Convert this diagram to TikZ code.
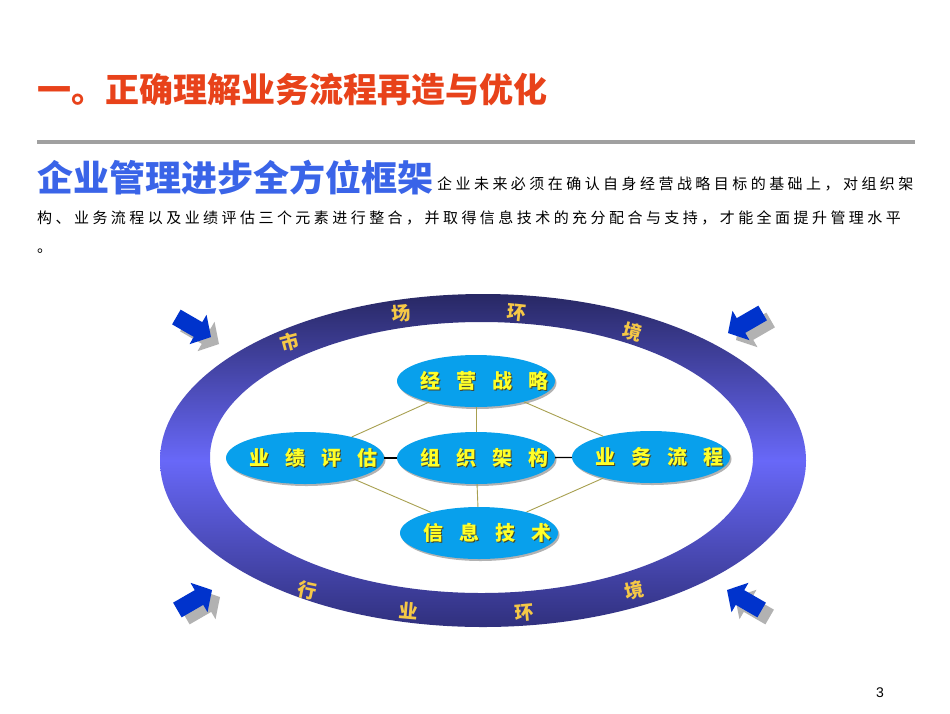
\documentclass[tikz,border=0pt]{standalone}
\usepackage{fontspec}
\setmainfont{Noto Sans CJK SC}
\newfontfamily\cjk{Noto Sans CJK SC}
\newfontfamily\cjkls{Noto Sans CJK SC}[LetterSpace=23]
\newfontfamily\arial{Liberation Sans}
\usetikzlibrary{shapes.geometric,shadows}
\definecolor{titlered}{RGB}{232,66,26}
\definecolor{subblue}{RGB}{58,100,232}
\definecolor{rulegray}{RGB}{160,160,160}
\definecolor{ringtop}{RGB}{40,40,100}
\definecolor{ringmid}{RGB}{104,104,248}
\definecolor{ringbot}{RGB}{48,48,125}
\definecolor{nodecyan}{RGB}{8,160,236}
\definecolor{nodetext}{RGB}{255,255,40}
\definecolor{txtshadow}{RGB}{70,70,40}
\definecolor{ringgold}{RGB}{245,200,70}
\definecolor{olive}{RGB}{168,160,80}
\definecolor{arrowblue}{RGB}{0,51,204}
\definecolor{shadowgray}{RGB}{178,178,178}
\newcommand{\shadowed}[1]{\makebox[0pt][l]{\kern1pt\raisebox{-1pt}{\color{txtshadow}#1}}{#1}}
\newcommand{\gap}{\hspace{16pt}}
\newcommand{\keytext}[1]{\makebox[0pt][c]{\shadowed{#1}}}
\newcommand{\inarrow}[3]{%
  \fill[shadowgray, shift={(#1+8,#2+7)}, rotate=#3] (0,0) -- (-15,17) -- (-15,8.5) -- (-40,8.5) -- (-40,-8.5) -- (-15,-8.5) -- (-15,-17) -- cycle;
  \fill[arrowblue, shift={(#1,#2)}, rotate=#3] (0,0) -- (-15,17) -- (-15,8.5) -- (-40,8.5) -- (-40,-8.5) -- (-15,-8.5) -- (-15,-17) -- cycle;}
\tikzset{
  keynode/.style={ellipse, fill=nodecyan, minimum width=158pt, minimum height=52pt, inner sep=0pt,
    drop shadow={shadow xshift=1.5pt, shadow yshift=-2pt, fill=black, opacity=0.3},
    font=\cjk\bfseries\fontsize{20}{20}\selectfont, text=nodetext},
  ringchar/.style={font=\cjk\bfseries\fontsize{19}{19}\selectfont, text=ringgold, inner sep=0pt},
  oliveline/.style={draw=olive, line width=0.9pt},
  blackline/.style={draw=black, line width=1.4pt}
}
\begin{document}
\begin{tikzpicture}[x=1pt,y=-1pt]
\useasboundingbox (0,0) rectangle (950,713);
\fill[white] (0,0) rectangle (950,713);
% header
\node[anchor=west, inner sep=0pt, text=titlered, font=\cjk\bfseries\fontsize{34}{34}\selectfont] (title) at (37,90) {一。正确理解业务流程再造与优化};
\draw[rulegray, line width=4pt] (37,142) -- (915,142);
\node[anchor=west, inner sep=0pt, text=subblue, font=\cjk\bfseries\fontsize{36}{36}\selectfont] (sub) at (37,178) {企业管理进步全方位框架};
\node[anchor=west, inner sep=0pt, font=\cjkls\fontsize{15}{15}\selectfont] (body1) at (437,184) {企业未来必须在确认自身经营战略目标的基础上，对组织架};
\node[anchor=west, inner sep=0pt, font=\cjkls\fontsize{15}{15}\selectfont] (body2) at (37,218) {构、业务流程以及业绩评估三个元素进行整合，并取得信息技术的充分配合与支持，才能全面提升管理水平};
\node[anchor=west, inner sep=0pt, font=\cjkls\fontsize{15}{15}\selectfont] (body3) at (37,251) {。};
% ring
\shade[even odd rule, top color=ringtop, bottom color=ringbot, middle color=ringmid]
  (483,460.5) ellipse [x radius=323, y radius=166.5]
  (481.5,457.5) ellipse [x radius=271.5, y radius=135.5];
% ring characters
\node[ringchar, rotate=15] (c1) at (290,342) {市};
\node[ringchar, rotate=6] (c2) at (401,313) {场};
\node[ringchar, rotate=-6] (c3) at (517,313) {环};
\node[ringchar, rotate=-15] (c4) at (633,332) {境};
\node[ringchar, rotate=-12] (c5) at (307,590) {行};
\node[ringchar, rotate=-5] (c6) at (409,611) {业};
\node[ringchar, rotate=5] (c7) at (524,613) {环};
\node[ringchar, rotate=12] (c8) at (634,590) {境};
% arrows
\inarrow{211}{337}{-30}
\inarrow{728}{333}{-150}
\inarrow{727}{590}{150}
\inarrow{212}{590}{30}
% key nodes
\node[keynode] (jy) at (476,381) {\keytext{\gap 经\gap 营\gap 战\gap 略}};
\node[keynode] (zz) at (476,458) {\keytext{\gap 组\gap 织\gap 架\gap 构}};
\node[keynode] (yw) at (651,457) {\keytext{\gap 业\gap 务\gap 流\gap 程}};
\node[keynode] (xx) at (479,533) {\keytext{\gap 信\gap 息\gap 技\gap 术}};
\node[keynode] (pg) at (305,458) {\keytext{\gap 业\gap 绩\gap 评\gap 估}};
% connectors
\draw[oliveline] (jy) -- (pg);
\draw[oliveline] (jy) -- (zz);
\draw[oliveline] (jy) -- (yw);
\draw[oliveline] (xx) -- (pg);
\draw[oliveline] (xx) -- (zz);
\draw[oliveline] (xx) -- (yw);
\draw[blackline] (pg) -- (zz);
\draw[blackline] (zz) -- (yw);
% page number
\node[font=\arial\fontsize{14}{14}\selectfont, inner sep=0pt] (pn) at (880,693) {3};
\end{tikzpicture}
\end{document}
